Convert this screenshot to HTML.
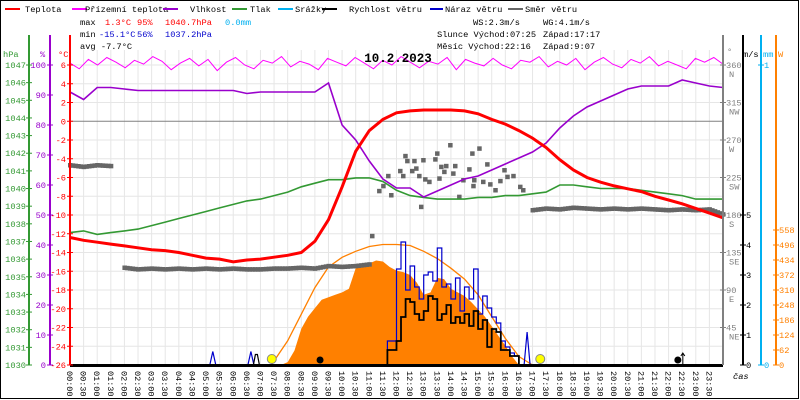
<!DOCTYPE html>
<html><head><meta charset="utf-8"><style>
body{margin:0;background:#fff}
svg{display:block;font-family:"Liberation Mono",monospace;font-size:8.7px}
</style></head><body>
<svg id="c" width="800" height="400" viewBox="0 0 800 400" xmlns="http://www.w3.org/2000/svg">
<rect x="0.5" y="0.5" width="798" height="398" fill="#fff" stroke="#000"/>
<g id="grid"></g>
<g id="marks"></g>
<g id="axes"></g>
<g>
 <g><rect x="5" y="8" width="15" height="2" fill="#ff0000"/><text x="25" y="12">Teplota</text></g>
 <g><rect x="72" y="8" width="15" height="2" fill="#ff00ff"/><text x="85" y="12">Přízemní teplota</text></g>
 <g><rect x="163" y="8" width="15" height="2" fill="#9900cc"/><text x="190" y="12">Vlhkost</text></g>
 <g><rect x="232" y="8" width="15" height="2" fill="#339933"/><text x="250" y="12">Tlak</text></g>
 <g><rect x="278" y="8" width="15" height="2" fill="#00b0f0"/><text x="295" y="12">Srážky</text></g>
 <g><rect x="322" y="8" width="15" height="2" fill="#000"/><text x="349" y="12">Rychlost větru</text></g>
 <g><rect x="430" y="8" width="13" height="2" fill="#0000cc"/><text x="445" y="12">Náraz větru</text></g>
 <g><rect x="508" y="8" width="15" height="2" fill="#666"/><text x="525" y="12">Směr větru</text></g>
</g>
<g>
 <text x="80" y="25">max</text><text x="105" y="25" fill="#ff0000">1.3°C</text><text x="137" y="25" fill="#ff0000">95%</text><text x="165" y="25" fill="#ff0000">1040.7hPa</text><text x="225" y="25" fill="#00b0f0">0.0mm</text>
 <text x="80" y="37">min</text><text x="99" y="37" fill="#0000cc">-15.1°C</text><text x="137" y="37" fill="#0000cc">56%</text><text x="165" y="37" fill="#0000cc">1037.2hPa</text>
 <text x="80" y="49">avg -7.7°C</text>
 <text x="473" y="25">WS:2.3m/s</text><text x="543" y="25">WG:4.1m/s</text>
 <text x="437" y="37">Slunce Východ:07:25</text><text x="543" y="37">Západ:17:17</text>
 <text x="437" y="49">Měsíc  Východ:22:16</text><text x="543" y="49">Západ:9:07</text>
</g>
<text x="398" y="62" text-anchor="middle" font-weight="bold" font-size="12.5">10.2.2023</text>
</svg>
<script>
const hours = [0,0.5,1,1.5,2,2.5,3,3.5,4,4.5,5,5.5,6,6.5,7,7.5,8,8.5,9,9.5,10,10.5,11,11.5,12,12.5,13,13.5,14,14.5,15,15.5,16,16.5,17,17.5,18,18.5,19,19.5,20,20.5,21,21.5,22,22.5,23,23.5,24];
const temperature = [-12.4,-12.7,-12.9,-13.1,-13.3,-13.5,-13.7,-13.8,-14.0,-14.3,-14.6,-14.7,-15.0,-14.8,-14.7,-14.5,-14.3,-14.0,-12.8,-10.5,-7.0,-3.2,-1.0,0.2,0.9,1.1,1.2,1.2,1.2,1.1,0.8,0.2,-0.3,-1.0,-1.8,-2.8,-4.1,-5.2,-6.0,-6.5,-6.9,-7.2,-7.5,-8.0,-8.4,-8.8,-9.3,-9.8,-10.3];
const humidity = [91,88.5,92.5,92.5,92,91.5,91.5,91.5,91.5,91.5,91.5,91.5,91.5,90.5,91,91,91,91,91,94,80,75,68,62,59,59,56,58,60,62,63,65,67,69,71,74,79,83,86,88,90,92,93,93,93,95,94,93,92.5];
const pressure = [1037.5,1037.6,1037.4,1037.5,1037.6,1037.7,1037.9,1038.1,1038.3,1038.5,1038.7,1038.9,1039.1,1039.3,1039.4,1039.6,1039.8,1040.1,1040.3,1040.5,1040.5,1040.6,1040.6,1040.4,1039.9,1039.6,1039.5,1039.4,1039.4,1039.4,1039.5,1039.5,1039.6,1039.6,1039.7,1039.8,1040.2,1040.2,1040.1,1040.0,1040.0,1040.0,1039.9,1039.8,1039.7,1039.6,1039.4,1039.4,1039.4];
const feelsLike = [6.2,5.6,6.6,6.0,6.8,6.3,5.7,6.5,6.1,6.9,6.4,5.5,6.2,6.7,5.9,6.6,5.4,6.3,6.8,6.0,5.6,6.5,6.2,6.9,5.8,6.4,6.1,5.5,6.7,6.3,5.9,6.8,6.2,5.6,6.5,6.0,6.9,6.3,5.7,6.4,6.1,6.8,5.5,6.6,6.2,5.9,6.7,6.0,5.6,6.5,6.3,6.9,5.8,6.4,6.0,6.7,5.5,6.3,6.8,6.1,5.7,6.6,6.2,6.9,5.9,6.4,6.0,5.6,6.7,6.3,6.8,6.1];
const dirBase = [240,238,240,239,117,115,116,115,116,115,116,115,116,115,115,116,116,117,116,119,118,119,121,null,null,null,null,null,null,null,null,null,null,null,186,188,187,189,188,187,188,187,188,187,186,187,186,187,181];
const dirScatterT = [11.1,12.32,12.39,12.65,12.98,12.72,12.13,12.24,12.57,11.69,12.83,11.51,11.36,11.8,12.9,13.05,13.2,13.57,13.42,13.49,13.97,13.64,13.82,13.75,14.15,14.08,14.3,14.45,14.78,15.04,14.67,14.85,14.82,15.18,15.33,15.44,15.63,15.81,15.96,16.07,16.29,16.54,16.65];
const dirScatterV = [155,251,245,245,246,236,233,227,233,227,227,215,209,204,190,223,220,224,247,254,264,238,239,232,239,230,202,222,254,260,235,222,215,220,241,217,210,221,234,226,227,214,210];
const solarT = [7.75,8,8.25,8.5,8.75,9,9.25,9.5,9.75,10,10.25,10.5,10.75,11,11.25,11.5,11.75,12,12.25,12.5,12.75,13,13.25,13.5,13.75,14,14.25,14.5,14.75,15,15.25,15.5,15.75,16,16.25,16.5];
const solarW = [0,12,60,150,200,235,270,280,290,300,315,400,410,420,432,428,405,390,384,372,340,290,300,360,355,315,300,285,260,230,200,160,120,80,35,0];
const clearT = [7.4,8,8.5,9,9.5,10,10.5,11,11.5,12,12.5,13,13.5,14,14.5,15,15.5,16,16.5,17];
const clearW = [0,100,210,320,405,445,470,490,498,498,494,470,440,400,355,290,200,110,35,0];
const windStart = 11.5, windStep = 1/6;
const windSpeed = [0,0.5,0.5,0.8,1.6,2.2,2.1,1.7,1.5,1.8,2.3,2.2,1.5,1.7,2.0,1.4,1.6,1.4,1.7,1.3,1.8,1.2,1.5,0.6,1.2,1.1,0.5,0.5,0.3,0.3,0];
const windGust = [0,0.8,0.8,3.2,4.1,2.5,3.3,2.6,2.2,3.0,3.1,2.8,3.9,2.6,2.7,2.2,2.9,1.8,2.6,2.2,3.2,1.7,2.3,1.9,1.6,1.4,0.8,0.6,0.4,0.3,0];
const gustEventT = [5.25,6.65,16.8];
const gustEventV = [0.45,0.45,1.1];
const windEventT = [6.85];
const windEventV = [0.35];
const pressTicks = [1030,1031,1032,1033,1034,1035,1036,1037,1038,1039,1040,1041,1042,1043,1044,1045,1046,1047];
const humTicks = [0,10,20,30,40,50,60,70,80,90,100];
const tempTicks = [6,4,2,0,-2,-4,-6,-8,-10,-12,-14,-16,-18,-20,-22,-24,-26];
const dirTicks = [45,90,135,180,225,270,315,360];
const dirNames = ["NE","E","SE","S","SW","W","NW","N"];
const windTicks = [0,1,2,3,4,5];
const solarTicks = [0,62,124,186,248,310,372,434,496,558];

const X0=70,X1=723,YT=65,YB=365;
const xs=t=>X0+t*(X1-X0)/24;
const yT=v=>YT+(6-v)*(YB-YT)/32;
const yH=v=>YB-v*(YB-YT)/100;
const yP=v=>YB-(v-1030)*(YB-YT)/17;
const yD=v=>YB-v*(YB-YT)/360;
const yW=v=>YB-v*30;
const yS=v=>YB-v*30/124;
const NS="http://www.w3.org/2000/svg";
function mk(tag,attrs,parent){const e=document.createElementNS(NS,tag);for(const k in attrs)e.setAttribute(k,attrs[k]);parent.appendChild(e);return e;}
const grid=document.getElementById('grid'),marks=document.getElementById('marks'),axes=document.getElementById('axes');

for(let i=0;i<=48;i++){const x=xs(i/2);const l=mk('line',{x1:x,x2:x,y1:YT-15,y2:YB,stroke:'#e6e6e6'},grid);

}
tempTicks.forEach(v=>{const l=mk('line',{x1:X0,x2:X1,y1:yT(v),y2:yT(v),stroke:v===0?'#808080':'#e6e6e6'},grid);

});

function path(pts,attrs,name){let d='';let pen=false;pts.forEach(p=>{if(p==null){pen=false;return;}d+=(pen?'L':'M')+p[0].toFixed(1)+','+p[1].toFixed(1);pen=true;});const e=mk('path',Object.assign({d:d,fill:'none'},attrs),marks);

return e;}

{let d='M'+xs(solarT[0])+','+YB;solarT.forEach((t,i)=>{d+='L'+xs(t).toFixed(1)+','+yS(solarW[i]).toFixed(1);});d+='L'+xs(solarT[solarT.length-1])+','+YB+'Z';
const e=mk('path',{d:d,fill:'#ff8000'},marks);

}
path(clearT.map((t,i)=>[xs(t),yS(clearW[i])]),{stroke:'#ff8000','stroke-width':1.3},'clear-sky-radiation-line');

{const g=mk('g',{fill:'#666'},marks);


const sq=(t,d)=>{const r=mk('rect',{x:xs(t)-2,y:yD(d)-2,width:4.5,height:4.5},g);};
for(let i=0;i<hours.length;i++){const v=dirBase[i];if(v==null)continue;const n=dirBase[i+1];
if(n!=null&&Math.abs(n-v)<40&&i<hours.length-1){for(let k=0;k<5;k++){sq(hours[i]+k*0.1,v+(n-v)*k/5);}}else sq(hours[i],v);}
dirScatterT.forEach((t,i)=>sq(t,dirScatterV[i]));}

path(hours.map((t,i)=>[xs(t),yP(pressure[i])]),{stroke:'#339933','stroke-width':1.6},'pressure-line');
path(hours.map((t,i)=>[xs(t),yH(humidity[i])]),{stroke:'#9900cc','stroke-width':1.6},'humidity-line');
path(feelsLike.map((v,i)=>[xs(i*24/(feelsLike.length-1)),yT(v)]),{stroke:'#ff00ff','stroke-width':1},'feels-like-line');
path(hours.map((t,i)=>[xs(t),yT(temperature[i])]),{stroke:'#ff0000','stroke-width':3},'temperature-line');

[[6.7,7.0],[11.4,16.5]].forEach(s=>{const r=mk('rect',{x:xs(s[0]),y:YB-1,width:xs(s[1])-xs(s[0]),height:2,fill:'#00b0f0'},marks);

});

function steps(vals,y){const p=[];vals.forEach((v,i)=>{const t=windStart+i*windStep;p.push([xs(t),y(v)]);p.push([xs(t+windStep),y(v)]);});return p;}
path(steps(windGust,yW),{stroke:'#0000cc','stroke-width':1.2},'wind-gust-line');
gustEventT.forEach((t,i)=>path([[xs(t)-3,YB],[xs(t),yW(gustEventV[i])],[xs(t)+3,YB]],{stroke:'#0000cc','stroke-width':1.2},'wind-gust-spike'));
path(steps(windSpeed,yW),{stroke:'#000','stroke-width':1.8},'wind-speed-line');
windEventT.forEach((t,i)=>path([[xs(t)-3,YB],[xs(t)-1,yW(windEventV[i])],[xs(t)+1,yW(windEventV[i])],[xs(t)+3,YB]],{stroke:'#000','stroke-width':1.2},'wind-speed-bump'));

[[7+25/60,'sunrise-marker'],[17+17/60,'sunset-marker']].forEach(m=>{const c=mk('circle',{cx:xs(m[0]),cy:YB-6,r:4.5,fill:'#ffff00',stroke:'#888'},marks);

});
[[9+7/60,'moonset-marker'],[22+16/60,'moonrise-marker']].forEach(m=>{const c=mk('circle',{cx:xs(m[0])+2,cy:YB-5,r:3.5,fill:'#000'},marks);

});
mk('path',{d:`M${xs(22+16/60)+7},${YB} V${YB-12} M${xs(22+16/60)+5},${YB-9} L${xs(22+16/60)+7},${YB-12} L${xs(22+16/60)+9},${YB-9}`,stroke:'#000',fill:'none'},marks);

{const l=mk('rect',{x:X0,y:YB-1,width:X1-X0,height:3,fill:'#000'},axes);

}
for(let i=0;i<48;i++){const h=Math.floor(i/2),m=i%2?'30':'00';const x=xs(i/2);
const t=mk('text',{x:0,y:0,transform:`translate(${x-3},371) rotate(90)`,'font-size':'8.5'},axes);t.textContent=(h<10?'0':'')+h+':'+m;

}
{const t=mk('text',{x:733,y:379,'font-style':'italic'},axes);t.textContent='čas';}

function vaxis(x,color,name,w){const l=mk('rect',{x:x-(w||2)/2,y:YT-30,width:w||2,height:YB-YT+30,fill:color},axes);}
vaxis(29,'#339933','pressure-axis');vaxis(50,'#9900cc','humidity-axis');vaxis(X0,'#ff0000','temperature-axis');
vaxis(X1,'#808080','direction-axis');vaxis(743,'#000','wind-axis');vaxis(761,'#00b0f0','precip-axis');vaxis(776,'#ff8000','solar-axis');
function lab(x,y,txt,color,anchor,name){const t=mk('text',{x:x,y:y,fill:color,'text-anchor':anchor||'start'},axes);t.textContent=txt;

return t;}
function tick(x,y,color){mk('line',{x1:x-3,x2:x+3,y1:y,y2:y,stroke:color},axes);}
pressTicks.forEach(v=>{tick(29,yP(v),'#339933');lab(26,yP(v)+3,String(v),'#339933','end','pressure-tick-label');});
humTicks.forEach(v=>{tick(50,yH(v),'#9900cc');lab(46,yH(v)+3,String(v),'#9900cc','end','humidity-tick-label');});
tempTicks.forEach(v=>{tick(X0,yT(v),'#ff0000');lab(66,yT(v)+3,String(v),'#ff0000','end','temperature-tick-label');});
dirTicks.forEach((v,i)=>{tick(X1,yD(v),'#808080');lab(726,yD(v)+3,String(v),'#808080','start','direction-tick-label');lab(729,yD(v)+12,dirNames[i],'#808080','start','direction-name-label');});
windTicks.forEach(v=>{tick(743,yW(v),'#000');lab(746,yW(v)+3,String(v),'#000','start','wind-tick-label');});
[[0,YB],[1,YT]].forEach(a=>{tick(761,a[1],'#00b0f0');lab(764,a[1]+3,String(a[0]),'#00b0f0','start','precip-tick-label');});
solarTicks.forEach(v=>{tick(776,yS(v),'#ff8000');lab(779,yS(v)+3,String(v),'#ff8000','start','solar-tick-label');});
lab(3,57,'hPa','#339933','start','pressure-unit');lab(40,57,'%','#9900cc','start','humidity-unit');lab(58,57,'°C','#ff0000','start','temperature-unit');
lab(727,54,'°','#808080','start','direction-unit');lab(743,57,'m/s','#000','start','wind-unit');lab(763,57,'mm','#00b0f0','start','precip-unit');lab(778,57,'W','#ff8000','start','solar-unit');
</script>
</body></html>
